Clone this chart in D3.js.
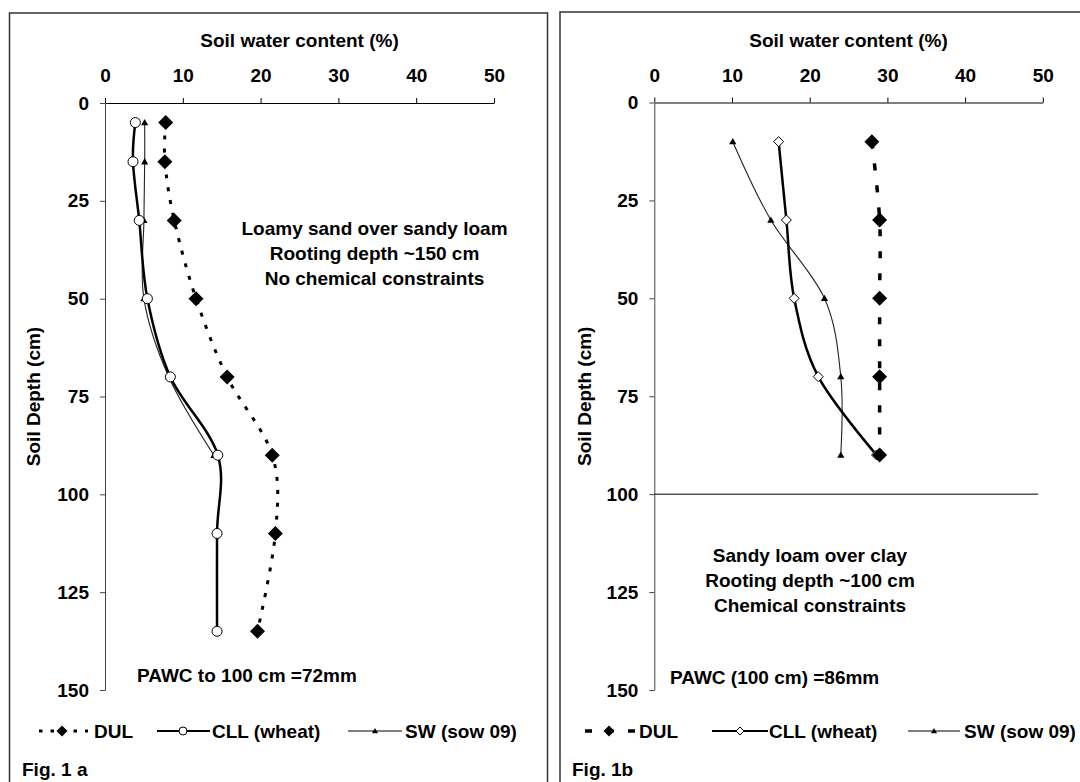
<!DOCTYPE html>
<html>
<head>
<meta charset="utf-8">
<script src="https://cdn.jsdelivr.net/npm/d3@7"></script>
<style>
  body { margin: 0; background: #fff; }
  svg text { font-family: "Liberation Sans", Arial, sans-serif; font-weight: bold; font-size: 19px; fill: #000; }
</style>
</head>
<body>
<svg id="chart" width="1080" height="782"></svg>
<script>
// Fig. 1a - loamy sand over sandy loam
let depthA = [5, 15, 30, 50, 70, 90, 110, 135];
let dulA = [7.8, 7.7, 8.9, 11.7, 15.7, 21.5, 21.9, 19.6];
let cllA = [3.9, 3.6, 4.4, 5.45, 8.4, 14.5, 14.4, 14.4];
let swDepthA = [5, 15, 30, 50, 70, 90];
let swA = [5.1, 5.1, 5.0, 5.0, 8.2, 14.0];

// Fig. 1b - sandy loam over clay
let depthB = [10, 30, 50, 70, 90];
let dulB = [28.0, 29.0, 29.0, 29.0, 29.0];
let cllB = [16.0, 17.0, 18.0, 21.1, 28.6];
let swB = [10.1, 15.0, 21.9, 24.0, 24.0];
let limitB = [0, 49.4]; // line drawn at 100 cm

let xTicks = [0, 10, 20, 30, 40, 50];
let yTicks = [0, 25, 50, 75, 100, 125, 150];
let legendLabels = ["DUL", "CLL (wheat)", "SW (sow 09)"];

let svg = d3.select("#chart");

function zip(xs, ys) {
  return xs.map((x, i) => ({ x: x, y: ys[i] }));
}

function diamond(r) {
  return `M0,${-r}L${r},0L0,${r}L${-r},0Z`;
}
function triangle(w) {
  return `M0,${-w}L${w},${w * 0.75}L${-w},${w * 0.75}Z`;
}

/**
 * Draws one panel: frame, axes, series and text.
 */
function drawPanel(p) {
  let g = svg.append("g");

  // frame
  g.append("rect")
    .attr("x", p.frame[0]).attr("y", p.frame[1])
    .attr("width", p.frame[2]).attr("height", p.frame[3])
    .attr("fill", "none").attr("stroke", "#333").attr("stroke-width", 1.5);

  let x = d3.scaleLinear().domain([0, 50]).range(p.xr);
  let y = d3.scaleLinear().domain([0, 150]).range(p.yr);

  // top x axis
  let xAxis = g.append("g").attr("transform", `translate(0,${p.yr[0]})`)
    .call(d3.axisTop(x).tickValues(xTicks).tickSize(5).tickSizeOuter(0).tickPadding(16));
  xAxis.select(".domain").attr("stroke", "#000");
  xAxis.selectAll("text").attr("font-size", 19).attr("font-family", null);

  let yAxis = g.append("g").attr("transform", `translate(${p.xr[0]},0)`)
    .call(d3.axisLeft(y).tickValues(yTicks).tickSize(5).tickSizeOuter(0).tickPadding(11));
  yAxis.select(".domain").attr("stroke", "#444");
  yAxis.selectAll("line").attr("stroke", "#444");
  yAxis.selectAll("text").attr("font-size", 19).attr("font-family", null);

  g.append("text").attr("x", (p.xr[0] + p.xr[1]) / 2).attr("y", 47)
    .attr("text-anchor", "middle").text("Soil water content (%)");

  g.append("text")
    .attr("transform", `translate(${p.ylabX},${(p.yr[0] + p.yr[1]) / 2}) rotate(-90)`)
    .attr("text-anchor", "middle").attr("dy", "0.35em").text("Soil Depth (cm)");

  let line = d3.line().x(d => x(d.x)).y(d => y(d.y)).curve(d3.curveCardinal.tension(0));

  if (p.limit) {
    g.append("line")
      .attr("x1", x(p.limit[0])).attr("x2", x(p.limit[1]))
      .attr("y1", y(100)).attr("y2", y(100))
      .attr("stroke", "#000").attr("stroke-width", 1);
  }

  // SW
  let sw = zip(p.sw, p.swDepth);
  g.append("path").attr("d", line(sw)).attr("fill", "none")
    .attr("stroke", "#222").attr("stroke-width", 1.1);
  // CLL
  let cll = zip(p.cll, p.depth);
  g.append("path").attr("d", line(cll)).attr("fill", "none")
    .attr("stroke", "#000").attr("stroke-width", 2.5);
  // DUL
  let dul = zip(p.dul, p.depth);
  g.append("path").attr("d", line(dul)).attr("fill", "none")
    .attr("stroke", "#000").attr("stroke-width", p.dulWidth)
    .attr("stroke-dasharray", p.dulDash);

  g.selectAll(".sw").data(sw).join("path")
    .attr("transform", d => `translate(${x(d.x)},${y(d.y)})`)
    .attr("d", triangle(3.6)).attr("fill", "#000");

  if (p.cllShape === "circle") {
    g.selectAll(".cll").data(cll).join("circle")
      .attr("cx", d => x(d.x)).attr("cy", d => y(d.y)).attr("r", 5)
      .attr("fill", "#fff").attr("stroke", "#000").attr("stroke-width", 1);
  } else {
    g.selectAll(".cll").data(cll).join("path")
      .attr("transform", d => `translate(${x(d.x)},${y(d.y)})`)
      .attr("d", diamond(5)).attr("fill", "#fff").attr("stroke", "#000").attr("stroke-width", 1);
  }

  g.selectAll(".dul").data(dul).join("path")
    .attr("transform", d => `translate(${x(d.x)},${y(d.y)})`)
    .attr("d", diamond(7.5)).attr("fill", "#000");

  // annotation
  p.notes.forEach((t, i) => {
    g.append("text").attr("x", p.noteX).attr("y", p.noteY + i * 25)
      .attr("text-anchor", "middle").text(t);
  });
  g.append("text").attr("x", p.pawcX).attr("y", p.pawcY).text(p.pawc);

  // legend
  let ly = 731;
  let L = p.legend;
  g.append("line").attr("x1", L[0][0]).attr("x2", L[0][1]).attr("y1", ly).attr("y2", ly)
    .attr("stroke", "#000").attr("stroke-width", p.dulWidth).attr("stroke-dasharray", p.legDash);
  g.append("path").attr("transform", `translate(${L[0][2]},${ly})`).attr("d", diamond(5.5)).attr("fill", "#000");

  g.append("line").attr("x1", L[1][0]).attr("x2", L[1][1]).attr("y1", ly).attr("y2", ly)
    .attr("stroke", "#000").attr("stroke-width", 2.2);
  if (p.cllShape === "circle") {
    g.append("circle").attr("cx", L[1][2]).attr("cy", ly).attr("r", 4)
      .attr("fill", "#fff").attr("stroke", "#000");
  } else {
    g.append("path").attr("transform", `translate(${L[1][2]},${ly})`).attr("d", diamond(4))
      .attr("fill", "#fff").attr("stroke", "#000");
  }

  g.append("line").attr("x1", L[2][0]).attr("x2", L[2][1]).attr("y1", ly).attr("y2", ly)
    .attr("stroke", "#000").attr("stroke-width", 1);
  g.append("path").attr("transform", `translate(${L[2][2]},${ly})`).attr("d", triangle(3)).attr("fill", "#000");

  legendLabels.forEach((t, i) => {
    g.append("text").attr("x", L[i][3]).attr("y", ly + 7).text(t);
  });

  g.append("text").attr("x", p.figX).attr("y", 776).text(p.fig);
}

drawPanel({
  frame: [9.5, 13, 538, 790],
  xr: [105, 494], yr: [103, 690], ylabX: 33,
  depth: depthA, dul: dulA, cll: cllA, swDepth: swDepthA, sw: swA,
  dulWidth: 3, dulDash: "4,9", legDash: "3.5,8",
  cllShape: "circle",
  notes: ["Loamy sand over sandy loam", "Rooting depth ~150 cm", "No chemical constraints"],
  noteX: 374.5, noteY: 235,
  pawc: "PAWC to 100 cm =72mm", pawcX: 137, pawcY: 682,
  legend: [[39, 88, 62, 94], [157, 210, 183, 212], [348, 402, 375, 405]],
  fig: "Fig. 1 a", figX: 22
});

drawPanel({
  frame: [560, 12, 540, 790],
  xr: [654.3, 1042.8], yr: [102.5, 690], ylabX: 584,
  depth: depthB, dul: dulB, cll: cllB, swDepth: depthB, sw: swB,
  limit: limitB,
  dulWidth: 3.5, dulDash: "7,15", legDash: "7,14.5",
  cllShape: "diamond",
  notes: ["Sandy loam over clay", "Rooting depth ~100 cm", "Chemical constraints"],
  noteX: 810, noteY: 562,
  pawc: "PAWC (100 cm) =86mm", pawcX: 670, pawcY: 684,
  legend: [[585, 635, 609, 639], [712, 768, 740, 769], [908, 960, 934, 964]],
  fig: "Fig. 1b", figX: 572
});
</script>
</body>
</html>
